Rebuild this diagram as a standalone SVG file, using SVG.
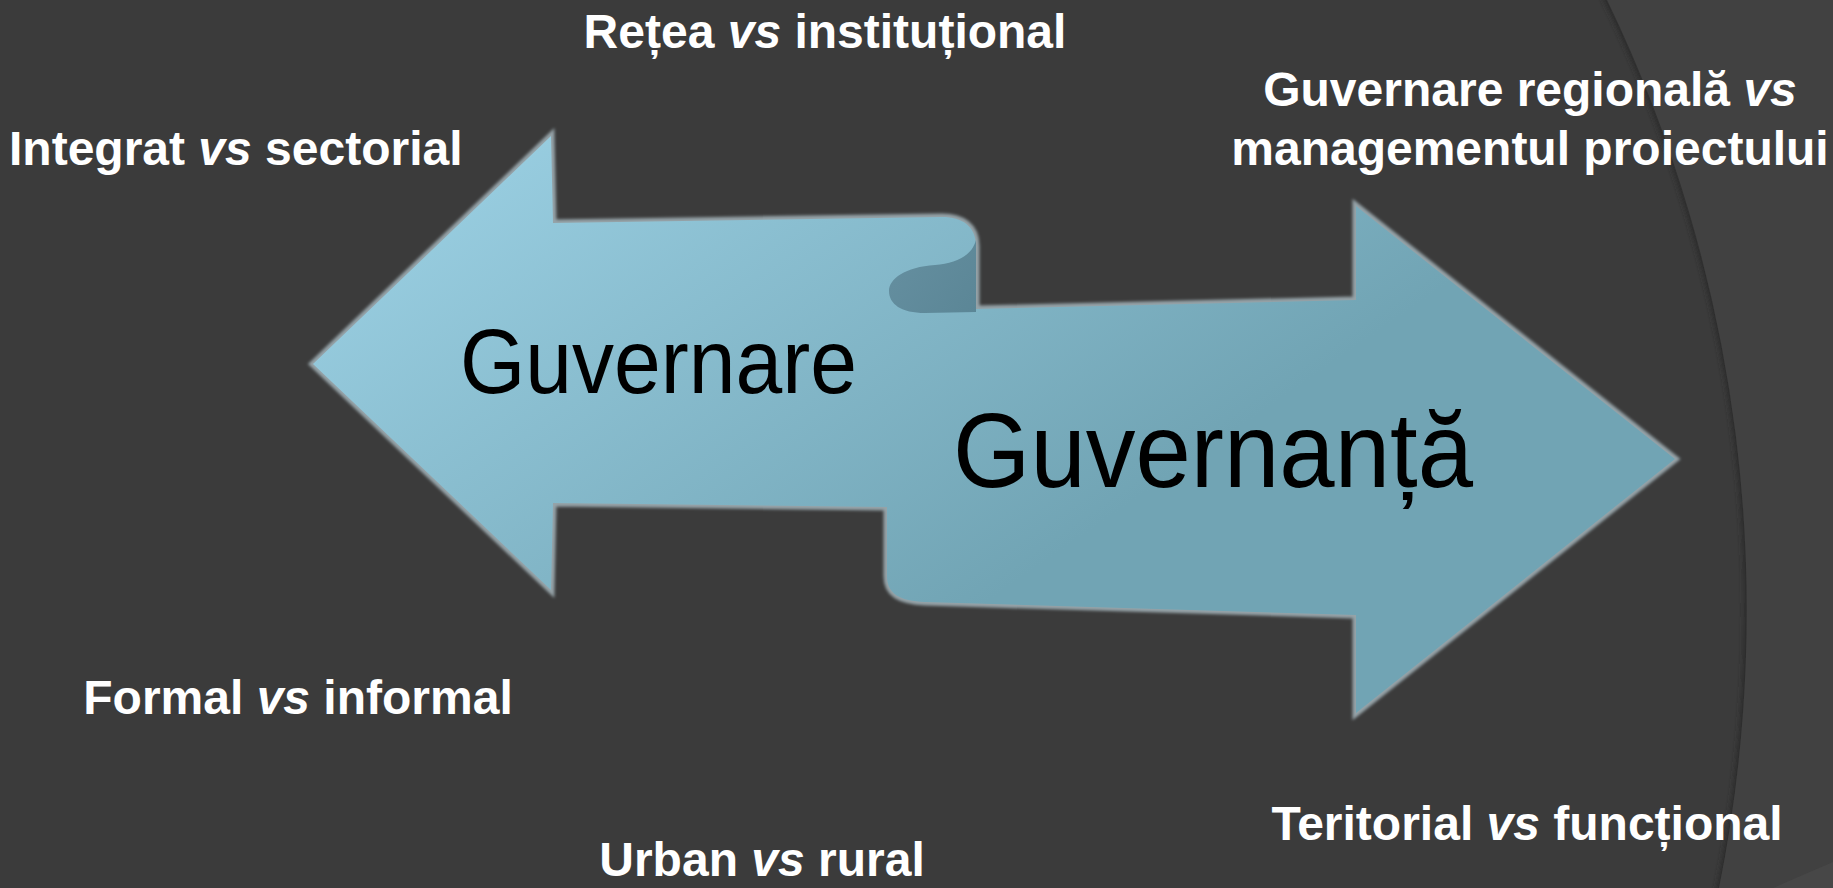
<svg xmlns="http://www.w3.org/2000/svg" width="1833" height="888" viewBox="0 0 1833 888">
  <defs>
    <linearGradient id="arrowFill" gradientUnits="userSpaceOnUse" x1="480" y1="140" x2="860" y2="690">
      <stop offset="0" stop-color="#99cee1"/>
      <stop offset="1" stop-color="#71a4b4"/>
    </linearGradient>
    <linearGradient id="foldFill" gradientUnits="userSpaceOnUse" x1="890" y1="250" x2="976" y2="313">
      <stop offset="0" stop-color="#658fa0"/>
      <stop offset="1" stop-color="#5b8696"/>
    </linearGradient>
    <filter id="soft" x="-5%" y="-5%" width="110%" height="110%">
      <feGaussianBlur stdDeviation="1.4"/>
    </filter>
    <filter id="shadow" x="-5%" y="-5%" width="110%" height="110%">
      <feGaussianBlur stdDeviation="2.5"/>
    </filter>
    <style>
      .lbl { font-family: "Liberation Sans", Arial, sans-serif; font-weight: bold; font-size: 48px; fill: #ffffff; }
      .lbl .it { font-style: italic; }
      .big { font-family: "Liberation Sans", Arial, sans-serif; fill: #000000; }
    </style>
  </defs>

  <!-- background -->
  <rect x="0" y="0" width="1833" height="888" fill="#3b3b3b"/>
  <circle cx="344" cy="611" r="1403" fill="none" stroke="#2c2c2c" stroke-width="6" filter="url(#shadow)"/>
  <path d="M1607,0 A1403,1403 0 0 1 1719,888 L1833,888 L1833,0 Z" fill="#414141"/>
  <path d="M1773,888 L1833,862 L1833,888 Z" fill="#474747"/>

  <g id="connectors"></g>

  <g id="arrows">
    <path id="arrow-outline" d="M313,364 L551,136 L553,223 L942,217 C962,217 976,226 976,246 L976,309 L1356,300 L1356,206 L1675,459 L1356,713 L1356,615 L925,602 C900,601 887,594 887,576 L887,507 L553,503 L551,590 Z" fill="none" stroke="#95a3a8" stroke-width="7" stroke-linejoin="miter" filter="url(#soft)"/>
    <path id="arrow-body" d="M313,364 L551,136 L553,223 L942,217 C962,217 976,226 976,246 L976,309 L1356,300 L1356,206 L1675,459 L1356,713 L1356,615 L925,602 C900,601 887,594 887,576 L887,507 L553,503 L551,590 Z" fill="url(#arrowFill)"/>
    <path id="arrow-fold" d="M976,240 C972,256 956,263 935,265 C905,267 889,279 889,291 C889,304 901,313 925,313 L976,312 Z" fill="url(#foldFill)"/>
  </g>

  <g id="node-guvernare">
    <text class="big" x="460" y="393" font-size="90" textLength="397" lengthAdjust="spacingAndGlyphs">Guvernare</text>
  </g>
  <g id="node-guvernanta">
    <text class="big" x="953" y="487" font-size="105" textLength="520" lengthAdjust="spacingAndGlyphs">Guvernanță</text>
  </g>

  <g id="label-retea">
    <text class="lbl" x="825" y="48" text-anchor="middle">Rețea <tspan class="it">vs</tspan> instituțional</text>
  </g>
  <g id="label-integrat">
    <text class="lbl" x="9" y="165">Integrat <tspan class="it">vs</tspan> sectorial</text>
  </g>
  <g id="label-regional">
    <text class="lbl" x="1530" y="106" text-anchor="middle">Guvernare regională <tspan class="it">vs</tspan></text>
    <text class="lbl" x="1530" y="165" text-anchor="middle">managementul proiectului</text>
  </g>
  <g id="label-formal">
    <text class="lbl" x="298" y="714" text-anchor="middle">Formal <tspan class="it">vs</tspan> informal</text>
  </g>
  <g id="label-teritorial">
    <text class="lbl" x="1527" y="840" text-anchor="middle">Teritorial <tspan class="it">vs</tspan> funcțional</text>
  </g>
  <g id="label-urban">
    <text class="lbl" x="762" y="876" text-anchor="middle">Urban <tspan class="it">vs</tspan> rural</text>
  </g>
</svg>
